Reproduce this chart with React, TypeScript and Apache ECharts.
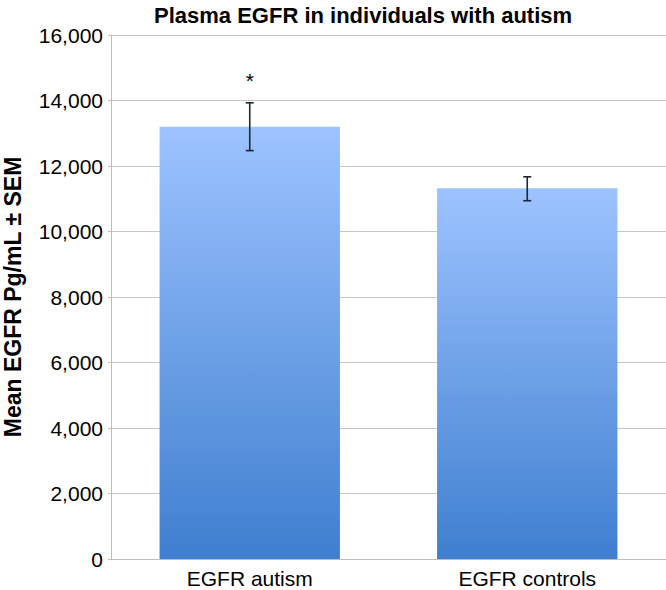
import React, { useEffect, useRef } from "react";
import * as echarts from "echarts";

const categories = ["EGFR autism", "EGFR controls"];
const meanValues = [13200, 11320];
const errLower = [12470, 10940];
const errUpper = [13930, 11670];
const sigMarks = ["*", ""];
const yTicks = { min: 0, max: 16000, interval: 2000 };

export default function App() {
  const ref = useRef<HTMLDivElement>(null);
  useEffect(() => {
    if (!ref.current) return;
    const chart = echarts.init(ref.current, null, { renderer: "svg" });
    const font = "Liberation Sans, Arial, Helvetica, sans-serif";
    chart.setOption({
      animation: false,
      title: {
        text: "Plasma EGFR in individuals with autism",
        left: 149,
        top: -1,
        textStyle: { fontFamily: font, fontWeight: "bold", fontSize: 22, color: "#000" },
      },
      grid: { left: 111, right: 0, top: 35, bottom: 31, containLabel: false, outerBoundsMode: "none" },
      xAxis: {
        type: "category",
        data: categories,
        axisLine: { show: true, lineStyle: { color: "#BDBDBD", width: 1 } },
        axisTick: { show: false },
        axisLabel: { fontFamily: font, fontSize: 21, color: "#000", margin: 9 },
      },
      yAxis: {
        type: "value",
        min: yTicks.min,
        max: yTicks.max,
        interval: yTicks.interval,
        name: "Mean EGFR Pg/mL ± SEM",
        nameLocation: "middle",
        nameGap: 87,
        nameTextStyle: { fontFamily: font, fontWeight: "bold", fontSize: 23, color: "#000" },
        axisLine: { show: true, lineStyle: { color: "#BDBDBD", width: 1 } },
        axisTick: { show: true, length: 3, lineStyle: { color: "#BDBDBD" } },
        splitLine: { show: true, lineStyle: { color: "#C6C6C6", width: 1 } },
        axisLabel: {
          fontFamily: font,
          fontSize: 21,
          color: "#000",
          margin: 8,
          formatter: (v: number) => v.toLocaleString("en-US"),
        },
      },
      series: [
        {
          type: "bar",
          data: meanValues,
          barWidth: "65%",
          itemStyle: {
            color: new echarts.graphic.LinearGradient(0, 0, 0, 1, [
              { offset: 0, color: "#9DC3FF" },
              { offset: 1, color: "#3F7FD0" },
            ]),
          },
        },
        {
          type: "custom",
          data: categories.map((_, i) => [i, errLower[i], errUpper[i]]),
          z: 10,
          renderItem: (params: any, api: any) => {
            const i = api.value(0);
            const lo = api.coord([i, api.value(1)]);
            const hi = api.coord([i, api.value(2)]);
            const x = lo[0];
            const cap = 4;
            const style = { stroke: "#1B2836", lineWidth: 1.6 };
            const children: any[] = [
              { type: "line", shape: { x1: x, y1: lo[1], x2: x, y2: hi[1] }, style },
              { type: "line", shape: { x1: x - cap, y1: hi[1], x2: x + cap, y2: hi[1] }, style },
              { type: "line", shape: { x1: x - cap, y1: lo[1], x2: x + cap, y2: lo[1] }, style },
            ];
            const mark = sigMarks[params.dataIndex];
            if (mark) {
              children.push({
                type: "text",
                style: {
                  text: mark,
                  x: x,
                  y: hi[1] - 12,
                  textAlign: "center",
                  textVerticalAlign: "bottom",
                  fontFamily: font,
                  fontSize: 21,
                  fill: "#000",
                },
              });
            }
            return { type: "group", children };
          },
        },
      ],
    });
    return () => chart.dispose();
  }, []);
  return (
    <div
      ref={ref}
      style={{ position: "fixed", left: 0, top: 0, width: 666, height: 590, background: "#fff" }}
    />
  );
}
